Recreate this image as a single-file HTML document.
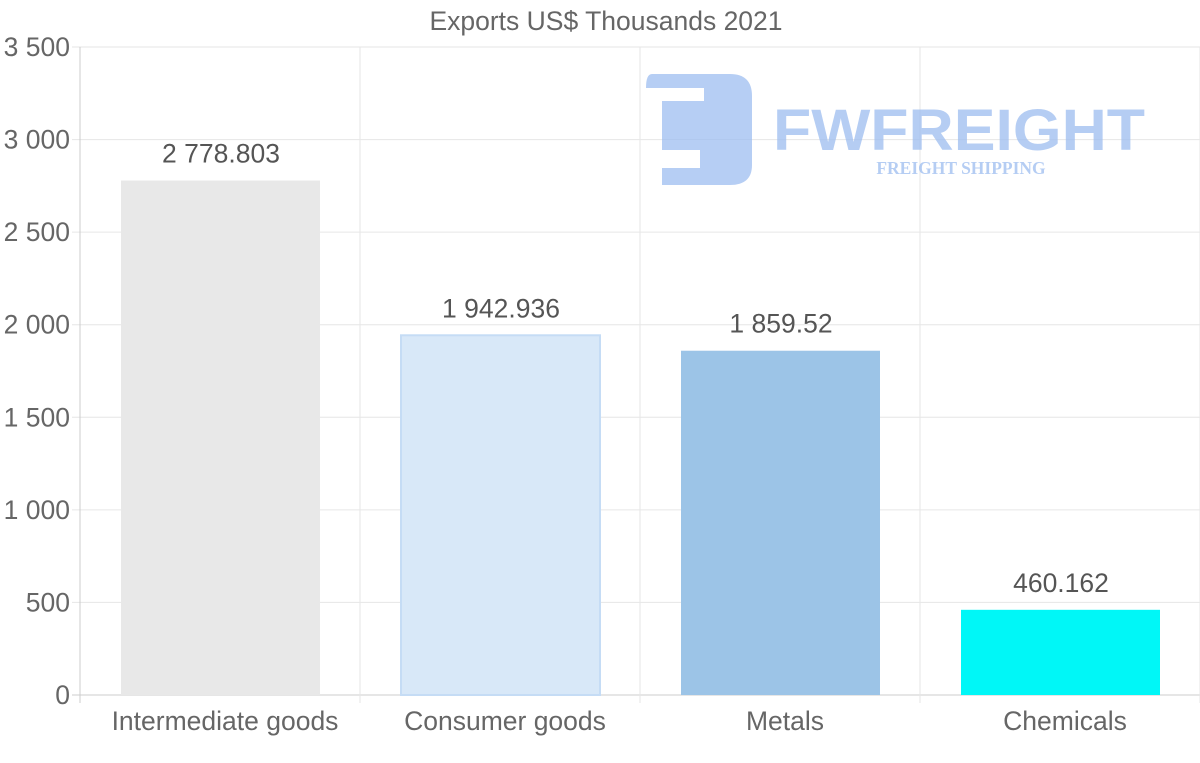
<!DOCTYPE html>
<html><head><meta charset="utf-8"><style>
body{margin:0;background:#fff;}
svg{display:block;font-family:"Liberation Sans",sans-serif;}
</style></head><body>
<svg id="chart" width="1200" height="763">
<text x="606" y="30" text-anchor="middle" font-size="26.5" fill="#666">Exports US$ Thousands 2021</text>
<g id="grid"></g>
<g id="logo" opacity="0.75">
<path d="M652,74 H730 Q752,74 752,96 V165 Q752,185 730,185 H662 V168 H700 V150 H662 V101 H704 V88 H646 Q646,74 652,74 Z" fill="#9dbdf0"/>
<text x="773" y="150" font-size="58" font-weight="bold" fill="#9dbdf0" textLength="372" lengthAdjust="spacingAndGlyphs">FWFREIGHT</text>
<text x="961" y="174" text-anchor="middle" font-size="17.5" font-weight="bold" font-family="Liberation Serif,serif" fill="#9dbdf0">FREIGHT SHIPPING</text>
</g>
<g id="bars"></g>
<g id="labels"></g>
</svg>
<script>
const categories=["Intermediate goods","Consumer goods","Metals","Chemicals"];
const values=[2778.803,1942.936,1859.52,460.162];
const valueLabels=["2 778.803","1 942.936","1 859.52","460.162"];
const yTicks=[0,500,1000,1500,2000,2500,3000,3500];
const yTickLabels=["0","500","1 000","1 500","2 000","2 500","3 000","3 500"];
const colors=["#e8e8e8","#d8e8f8","#9cc4e7","#00f7f7"];
const NS="http://www.w3.org/2000/svg";
const L=80,R=1200,T=47,B=695,yMax=3500;
const y=v=>B-(v/yMax)*(B-T);
const bw=(R-L)/categories.length;
const x=i=>L+i*bw;
function mk(tag,attrs,parent){const e=document.createElementNS(NS,tag);for(const k in attrs)e.setAttribute(k,attrs[k]);parent.appendChild(e);return e;}
const grid=document.getElementById('grid');
yTicks.forEach((t,i)=>{
  const l=mk('line',{x1:72,x2:R,y1:y(t),y2:y(t),stroke:i===0?'#ccc':'#e6e6e6','stroke-width':1},grid);
  
  
  const tx=mk('text',{x:70,y:y(t)+9,'text-anchor':'end','font-size':26.5,fill:'#666'},grid);
  tx.textContent=yTickLabels[i];
  
  
});
for(let i=0;i<=categories.length;i++){
  const l=mk('line',{x1:x(i),x2:x(i),y1:T,y2:B+8,stroke:i===0?'#ccc':'#e6e6e6','stroke-width':1},grid);
  
  
}
const bars=document.getElementById('bars'),labels=document.getElementById('labels');
categories.forEach((c,i)=>{
  const bx=x(i)+41,w=bw-81;
  const r=mk('rect',{x:bx,y:y(values[i]),width:w,height:B-y(values[i]),fill:colors[i],stroke:i===1?'#c5dcf5':'none','stroke-width':2},bars);
  
  
  const v=mk('text',{x:x(i)+bw/2+1,y:y(values[i])-18,'text-anchor':'middle','font-size':26.5,fill:'#555'},labels);
  v.textContent=valueLabels[i];
  
  
  const t=mk('text',{x:x(i)+bw/2+5,y:730,'text-anchor':'middle','font-size':26.5,fill:'#666'},labels);
  t.textContent=c;
  
  
});
</script>
</body></html>
